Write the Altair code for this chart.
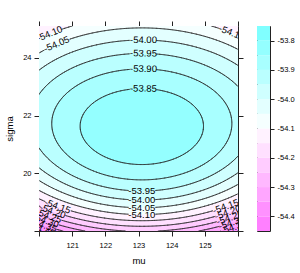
import altair as alt
import numpy as np
import pandas as pd

# ---- surface: normal log-likelihood over (mu, sigma) ----
n_obs = 12
mu_hat = 123.1
var_hat = 464.4
const = -10.961

mu_range = [120, 126]
sigma_range = [18, 25.1]

x_ticks = [120, 121, 122, 123, 124, 125, 126]
y_ticks = [18, 20, 22, 24]
key_ticks = [-54.4, -54.3, -54.2, -54.1, -54.0, -53.9, -53.8]

band_edges = [-54.45, -54.40, -54.35, -54.30, -54.25, -54.20, -54.15, -54.10,
              -54.05, -54.00, -53.95, -53.90, -53.85, -53.80, -53.75]
band_colors = ["#FF80FF", "#FF91FF", "#FFA6FF", "#FFB8FF", "#FFCCFF", "#FFE0FF", "#FFF2FF",
               "#F5FFFF", "#E3FFFF", "#CFFFFF", "#BAFFFF", "#A8FFFF", "#94FFFF", "#80FFFF"]
contour_levels = [-54.40, -54.35, -54.30, -54.25, -54.20, -54.15, -54.10,
                  -54.05, -54.00, -53.95, -53.90, -53.85]

label_level = [-54.00, -53.95, -53.90, -53.85, -53.95, -54.00, -54.05, -54.10,
               -54.10, -54.05, -54.10,
               -54.15, -54.20, -54.25, -54.30, -54.35, -54.40,
               -54.15, -54.20, -54.25, -54.30, -54.35]
label_mu = [123.15, 123.15, 123.15, 123.15, 123.1, 123.1, 123.1, 123.1,
            120.32, 120.53, 125.81,
            120.56, 120.41, 120.29, 120.20, 120.14, 120.08,
            125.63, 125.69, 125.75, 125.81, 125.87]
label_branch = ["upper"] * 4 + ["lower"] * 4 + ["upper"] * 3 + ["lower"] * 11

W, H = 199, 205
KX = W / (mu_range[1] - mu_range[0])
KY = H / (sigma_range[1] - sigma_range[0])


def surface(m, s):
    return const - n_obs * np.log(s) - n_obs * (var_hat + (m - mu_hat) ** 2) / (2 * s ** 2)


# ---- filled regions (superlevel sets, one layer per band) ----
sig_fine = np.linspace(sigma_range[0], sigma_range[1], 700)
area_rows = []
for k in range(len(band_colors)):
    L = band_edges[k]
    d2 = (2 * sig_fine ** 2 / n_obs) * (const - n_obs * np.log(sig_fine)
                                         - n_obs * var_hat / (2 * sig_fine ** 2) - L)
    for s, v in zip(sig_fine, d2):
        if v > 0:
            d = np.sqrt(v)
            area_rows.append({"band": k, "sigma": s, "left": mu_hat - d, "right": mu_hat + d})
area_df = pd.DataFrame(area_rows)

# ---- contour labels: position on the line, angle along the line ----
sig_scan = np.linspace(sigma_range[0], sigma_range[1], 4000)
lab_rows = []
for L, m, br in zip(label_level, label_mu, label_branch):
    f = surface(m, sig_scan) - L
    idx = np.where(np.sign(f[:-1]) != np.sign(f[1:]))[0]
    if len(idx) == 0:
        continue
    i = idx[-1] if br == "upper" else idx[0]
    t = f[i] / (f[i] - f[i + 1])
    s = sig_scan[i] + t * (sig_scan[i + 1] - sig_scan[i])
    dfdm = -n_obs * (m - mu_hat) / s ** 2
    dfds = -n_obs / s + n_obs * (var_hat + (m - mu_hat) ** 2) / s ** 3
    px, py = -dfds * KX, -dfdm * KY
    ang = np.degrees(np.arctan2(py, px))
    if ang > 90:
        ang -= 180
    if ang <= -90:
        ang += 180
    lab_rows.append({"mu": m, "sigma": s, "text": f"{L:.2f}", "angle": ang % 360,
                     "level": L})
lab_df = pd.DataFrame(lab_rows)

# ---- contour lines (marching squares) ----
gx = np.linspace(mu_range[0], mu_range[1], 150)
gy = np.linspace(sigma_range[0], sigma_range[1], 175)
MM, SS = np.meshgrid(gx, gy)
Z = surface(MM, SS)
seg_rows = []
for L in contour_levels:
    z00, z01, z10, z11 = Z[:-1, :-1], Z[:-1, 1:], Z[1:, :-1], Z[1:, 1:]
    zmin = np.minimum(np.minimum(z00, z01), np.minimum(z10, z11))
    zmax = np.maximum(np.maximum(z00, z01), np.maximum(z10, z11))
    for i, j in np.argwhere((zmin < L) & (zmax >= L)):
        corners = [(gx[j], gy[i], Z[i, j]), (gx[j + 1], gy[i], Z[i, j + 1]),
                   (gx[j + 1], gy[i + 1], Z[i + 1, j + 1]), (gx[j], gy[i + 1], Z[i + 1, j])]
        pts = []
        for k in range(4):
            x1, y1, z1 = corners[k]
            x2, y2, z2 = corners[(k + 1) % 4]
            if (z1 >= L) != (z2 >= L):
                t = (L - z1) / (z2 - z1)
                pts.append((x1 + t * (x2 - x1), y1 + t * (y2 - y1)))
        pairs = [pts[:2]] if len(pts) == 2 else ([pts[:2], pts[2:]] if len(pts) == 4 else [])
        for p in pairs:
            mx = (p[0][0] + p[1][0]) / 2
            my = (p[0][1] + p[1][1]) / 2
            keep = True
            for _, r in lab_df[np.isclose(lab_df["level"], L)].iterrows():
                dx = (mx - r["mu"]) * KX
                dy = (my - r["sigma"]) * KY
                if dx * dx + dy * dy < 13.5 ** 2:
                    keep = False
                    break
            if keep:
                seg_rows.append({"mu": p[0][0], "sigma": p[0][1],
                                 "mu2": p[1][0], "sigma2": p[1][1]})
seg_df = pd.DataFrame(seg_rows)

xs = alt.Scale(domain=mu_range, nice=False, zero=False)
ys = alt.Scale(domain=sigma_range, nice=False, zero=False)

FONT = "Liberation Sans"
minus_fix = "replace(datum.label, '\u2212', '-')"

layers = []
for k in range(len(band_colors)):
    sub = area_df[area_df["band"] == k]
    if len(sub) == 0:
        continue
    if k == 0:
        xenc = alt.X("left:Q", scale=xs, title="mu",
                     axis=alt.Axis(orient="bottom", values=x_ticks, labelPadding=5, titlePadding=7,
                                   labelExpr="datum.value == 120 || datum.value == 126 ? '' : datum.label"))
        yenc = alt.Y("sigma:Q", scale=ys, title="sigma",
                     axis=alt.Axis(orient="left", values=y_ticks,
                                   labelExpr="datum.value == 18 ? '' : datum.label"))
    else:
        xenc = alt.X("left:Q", scale=xs, axis=None)
        yenc = alt.Y("sigma:Q", scale=ys, axis=None)
    layers.append(
        alt.Chart(sub).mark_area(orient="horizontal", clip=True, color=band_colors[k],
                                 strokeWidth=0)
        .encode(y=yenc, x=xenc, x2="right:Q")
    )

frame_df = pd.DataFrame({"mu": mu_range, "sigma": sigma_range})
layers.append(
    alt.Chart(frame_df).mark_point(opacity=0).encode(
        x=alt.X("mu:Q", scale=xs, title=None,
                axis=alt.Axis(orient="top", values=x_ticks, labels=False)),
        y=alt.Y("sigma:Q", scale=ys, title=None,
                axis=alt.Axis(orient="right", values=y_ticks, labels=False)),
    )
)

layers.append(
    alt.Chart(seg_df).mark_rule(color="#222222", strokeWidth=0.7, strokeCap="round", clip=True)
    .encode(x=alt.X("mu:Q", scale=xs, axis=None), y=alt.Y("sigma:Q", scale=ys, axis=None),
            x2="mu2:Q", y2="sigma2:Q")
)

for _, r in lab_df.iterrows():
    one = pd.DataFrame([r])
    layers.append(
        alt.Chart(one).mark_text(font=FONT, fontSize=9.5, color="#000000", clip=True,
                                 baseline="middle", align="center", angle=float(r["angle"]))
        .encode(x=alt.X("mu:Q", scale=xs, axis=None), y=alt.Y("sigma:Q", scale=ys, axis=None),
                text="text:N")
    )

main = alt.layer(*layers).resolve_axis(x="independent", y="independent").properties(
    width=W, height=H)

key_df = pd.DataFrame({"lo": band_edges[:-1], "hi": band_edges[1:], "color": band_colors})
key = alt.Chart(key_df).mark_rect().encode(
    y=alt.Y("lo:Q", scale=alt.Scale(domain=[band_edges[0], band_edges[-1]], nice=False, zero=False),
            title=None,
            axis=alt.Axis(orient="right", values=key_ticks, format=".1f", labelExpr=minus_fix,
                          tickSize=4, labelPadding=3)),
    y2="hi:Q",
    color=alt.Color("color:N", scale=None),
).properties(width=13, height=H)

chart = alt.hconcat(main, key, spacing=19, bounds="flush").properties(
    padding={"left": 4, "top": 20, "right": 0, "bottom": 0}
).configure_view(stroke="#222222", strokeWidth=1).configure_axis(
    labelFont=FONT, labelFontSize=7.5, labelColor="#000000",
    titleFont=FONT, titleFontSize=9.5, titleFontWeight="normal", titleColor="#000000",
    tickColor="#222222", tickSize=5, domain=False, grid=False, labelPadding=3,
).configure_axisY(titlePadding=8)

chart.save("out.html", embed_options={"renderer": "svg", "actions": False})
